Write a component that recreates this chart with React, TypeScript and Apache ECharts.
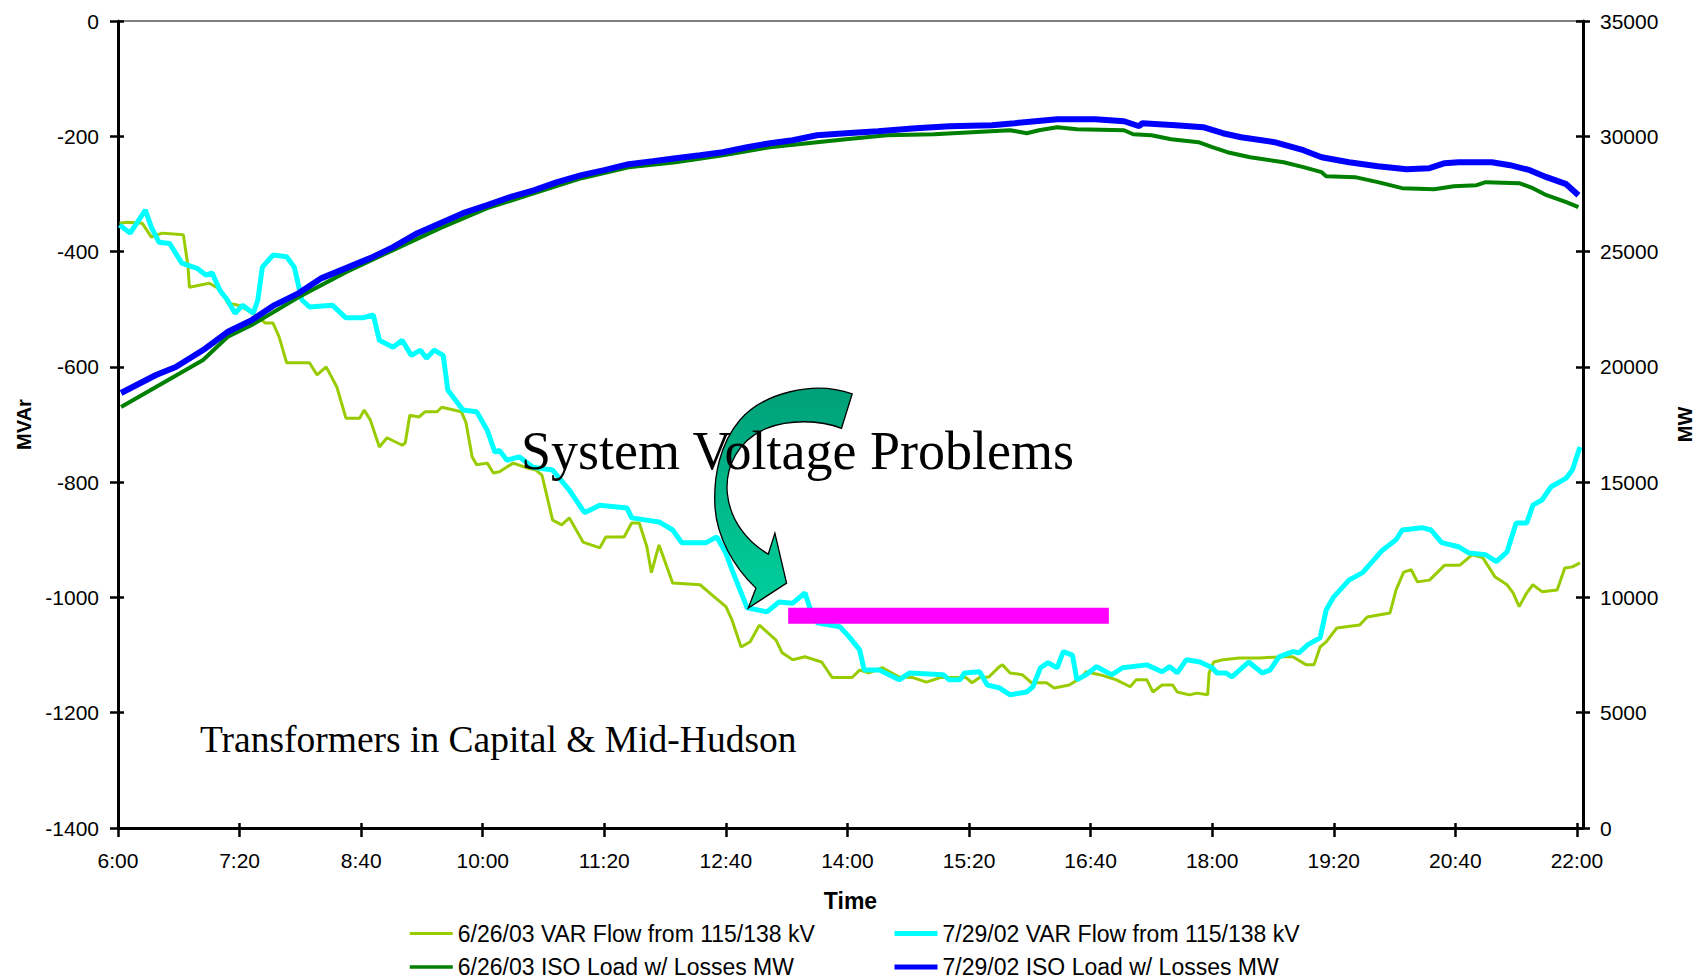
import React, { useEffect, useRef } from 'react';
import * as echarts from 'echarts';

// Time axis: minutes after 6:00
const xTickMinutes = [0, 80, 160, 240, 320, 400, 480, 560, 640, 720, 800, 880, 960];
const xTickLabels = ['6:00', '7:20', '8:40', '10:00', '11:20', '12:40', '14:00', '15:20', '16:40', '18:00', '19:20', '20:40', '22:00'];

const seriesNames = [
  '6/26/03 VAR Flow from 115/138 kV',
  '7/29/02 VAR Flow from 115/138 kV',
  '6/26/03 ISO Load w/ Losses MW',
  '7/29/02 ISO Load w/ Losses MW',
];

// [minutes after 6:00, MVAr]
const varFlow0626: [number, number][] = [
  [1, -351], [6, -349], [16, -351], [22, -375], [29, -368], [43, -371], [46, -424], [47, -462], [60, -455], [65, -462],
  [69, -472], [72, -489], [79, -493], [89, -507], [97, -524], [102, -524], [106, -548], [111, -593], [126, -593], [131, -614],
  [137, -600], [144, -635], [150, -689], [159, -689], [162, -675], [166, -692], [172, -739], [177, -723], [187, -736], [189, -732],
  [192, -684], [198, -687], [202, -678], [210, -678], [213, -670], [226, -678], [229, -697], [233, -756], [236, -770], [243, -767],
  [247, -784], [251, -782], [260, -767], [269, -775], [275, -779], [279, -788], [286, -866], [292, -874], [297, -862], [306, -904],
  [317, -914], [321, -895], [333, -895], [338, -871], [343, -871], [348, -912], [351, -957], [356, -909], [365, -975], [383, -978],
  [391, -996], [400, -1016], [404, -1039], [410, -1086], [416, -1077], [422, -1048], [433, -1074], [437, -1096], [444, -1108], [452, -1103],
  [463, -1112], [470, -1139], [483, -1139], [488, -1126], [494, -1131], [503, -1122], [514, -1138], [523, -1139], [532, -1147], [541, -1139],
  [558, -1139], [562, -1148], [567, -1139], [573, -1138], [580, -1120], [582, -1117], [587, -1131], [595, -1134], [601, -1148], [611, -1148],
  [616, -1157], [626, -1152], [634, -1139], [637, -1129], [646, -1134], [657, -1143], [666, -1155], [670, -1143], [677, -1143], [681, -1164],
  [687, -1152], [694, -1152], [697, -1164], [705, -1169], [710, -1166], [717, -1169], [718, -1131], [721, -1112], [727, -1108], [738, -1105],
  [751, -1105], [766, -1103], [773, -1103], [782, -1117], [787, -1117], [791, -1086], [795, -1077], [802, -1053], [817, -1048], [822, -1034],
  [837, -1027], [841, -987], [846, -956], [851, -952], [855, -973], [863, -970], [873, -944], [883, -944], [891, -926], [898, -931],
  [906, -964], [914, -978], [918, -992], [922, -1016], [927, -992], [931, -978], [937, -990], [947, -987], [952, -949], [957, -947],
  [962, -940],
];

const varFlow0729: [number, number][] = [
  [1, -354], [8, -368], [18, -328], [22, -358], [27, -384], [34, -386], [42, -420], [52, -429], [58, -441], [62, -437],
  [67, -467], [72, -484], [77, -507], [82, -493], [89, -507], [92, -484], [95, -427], [102, -406], [111, -409], [116, -427],
  [121, -484], [126, -496], [141, -493], [150, -515], [161, -515], [168, -510], [172, -554], [181, -566], [187, -554], [193, -580],
  [199, -571], [203, -585], [208, -571], [214, -580], [217, -640], [227, -675], [236, -678], [243, -710], [248, -748], [251, -745],
  [256, -762], [264, -756], [273, -774], [286, -779], [297, -814], [307, -853], [317, -840], [335, -845], [338, -862], [356, -869],
  [365, -883], [371, -905], [387, -905], [394, -895], [400, -923], [404, -952], [414, -1018], [427, -1025], [435, -1008], [444, -1010],
  [452, -992], [455, -1016], [460, -1044], [475, -1051], [481, -1068], [488, -1091], [491, -1126], [501, -1126], [514, -1143], [521, -1131],
  [543, -1134], [547, -1143], [554, -1143], [557, -1131], [567, -1129], [572, -1152], [580, -1157], [587, -1169], [598, -1164], [602, -1155],
  [607, -1122], [612, -1113], [618, -1122], [622, -1094], [628, -1100], [631, -1143], [637, -1134], [644, -1120], [650, -1129], [654, -1134],
  [661, -1122], [677, -1117], [687, -1129], [692, -1120], [697, -1131], [703, -1108], [712, -1112], [720, -1122], [723, -1131], [729, -1131],
  [733, -1138], [744, -1112], [753, -1131], [758, -1126], [764, -1103], [773, -1094], [777, -1096], [783, -1082], [791, -1070], [795, -1022],
  [800, -999], [810, -970], [819, -957], [832, -918], [841, -900], [845, -883], [858, -879], [864, -883], [871, -905], [882, -912],
  [889, -923], [900, -926], [907, -938], [914, -921], [920, -871], [927, -871], [931, -840], [937, -831], [943, -808], [953, -793],
  [957, -779], [962, -739],
];

// [minutes after 6:00, MW]
const isoLoad0626: [number, number][] = [
  [2, 18258], [25, 19125], [56, 20295], [72, 21292], [88, 21812], [119, 23026], [150, 24109], [181, 25063], [212, 26016], [243, 26883],
  [274, 27533], [305, 28183], [336, 28660], [367, 28876], [398, 29180], [429, 29526], [460, 29743], [479, 29873], [506, 30046], [537, 30090],
  [562, 30176], [587, 30263], [598, 30133], [606, 30263], [618, 30393], [631, 30306], [662, 30263], [668, 30090], [680, 30046], [693, 29873],
  [711, 29743], [720, 29526], [730, 29310], [745, 29093], [767, 28876], [780, 28660], [792, 28443], [795, 28270], [814, 28227], [829, 28010],
  [845, 27750], [866, 27707], [879, 27836], [894, 27880], [900, 28010], [922, 27967], [931, 27750], [940, 27446], [953, 27143], [961, 26926],
];

const isoLoad0729: [number, number][] = [
  [2, 18865], [25, 19645], [38, 19992], [56, 20729], [72, 21509], [88, 22029], [103, 22679], [119, 23199], [134, 23849], [150, 24282],
  [166, 24716], [181, 25193], [197, 25799], [212, 26233], [227, 26666], [243, 27013], [258, 27360], [274, 27663], [289, 28010], [305, 28313],
  [320, 28530], [336, 28790], [352, 28920], [367, 29050], [383, 29180], [398, 29310], [414, 29526], [429, 29700], [444, 29830], [460, 30046],
  [479, 30133], [500, 30220], [525, 30350], [547, 30436], [575, 30480], [590, 30567], [618, 30740], [643, 30740], [662, 30653], [672, 30436],
  [674, 30567], [696, 30480], [714, 30393], [727, 30133], [739, 29960], [761, 29743], [780, 29396], [792, 29093], [810, 28876], [829, 28703],
  [848, 28573], [863, 28616], [873, 28833], [882, 28876], [904, 28876], [916, 28746], [929, 28530], [940, 28226], [953, 27923], [961, 27446],
];

// Highlighted problem window (13:21 - 16:52) at about -1032 MVAr
const problemWindow: [number, number][] = [[441, -1032], [652, -1032]];

const ARROW_D =
  'M 517 72 C 400 30 250 70 180 150 C 120 220 100 320 105 410 C 110 500 160 590 228 655 ' +
  'L 205 715 L 320 640 L 285 490 L 265 553 ' +
  'C 200 515 150 450 142 370 C 135 290 175 210 260 175 C 330 148 420 150 485 175 Z';

let arrowRegistered = false;

const SANS = "'Liberation Sans', Arial, sans-serif";
const SERIF = "'Liberation Serif', 'Times New Roman', serif";

export default function App() {
  const ref = useRef<HTMLDivElement>(null);

  useEffect(() => {
    if (!arrowRegistered) {
      echarts.graphic.registerShape('voltArrow', echarts.graphic.extendPath(ARROW_D, {}));
      arrowRegistered = true;
    }
    const chart = echarts.init(ref.current as HTMLDivElement, null, { renderer: 'svg' });

    const tickStyle = { color: '#000', width: 2.5 };
    const labelStyle = { color: '#000', fontSize: 21, fontFamily: SANS, formatter: (v: number) => String(v) };

    const legendBase = {
      top: 922,
      padding: 0,
      orient: 'vertical',
      itemWidth: 43,
      itemHeight: 14,
      itemGap: 10.5,
      itemStyle: { opacity: 0 },
      textStyle: { fontSize: 23, color: '#000', fontFamily: SANS },
      selectedMode: false,
    };

    const option: any = {
      animation: false,
      backgroundColor: '#fff',
      grid: { left: 118, right: 125, top: 21, bottom: 151, containLabel: false },
      legend: [
        {
          ...legendBase,
          left: 408,
          data: [
            { name: seriesNames[0], lineStyle: { width: 3 } },
            { name: seriesNames[2], lineStyle: { width: 3.5 } },
          ],
        },
        {
          ...legendBase,
          left: 892,
          data: [
            { name: seriesNames[1], lineStyle: { width: 5 } },
            { name: seriesNames[3], lineStyle: { width: 5 } },
          ],
        },
      ],
      xAxis: [
        {
          type: 'value',
          min: 0,
          max: 964,
          position: 'bottom',
          name: 'Time',
          nameLocation: 'middle',
          nameGap: 61,
          nameTextStyle: { fontSize: 23, fontWeight: 'bold', color: '#000', fontFamily: SANS },
          axisLine: { show: true, onZero: false, lineStyle: { color: '#000', width: 3 } },
          axisTick: { show: true, inside: false, length: 9, customValues: xTickMinutes, lineStyle: tickStyle },
          axisLabel: {
            color: '#000',
            fontSize: 21,
            fontFamily: SANS,
            margin: 22,
            customValues: xTickMinutes,
            formatter: (v: number) => {
              const i = xTickMinutes.indexOf(Math.round(v));
              return i >= 0 ? xTickLabels[i] : '';
            },
          },
          splitLine: { show: false },
        },
        {
          type: 'value',
          min: 0,
          max: 964,
          position: 'top',
          axisLine: { show: true, onZero: false, lineStyle: { color: '#808080', width: 2 } },
          axisTick: { show: false },
          axisLabel: { show: false },
          splitLine: { show: false },
        },
        {
          type: 'value',
          min: 0,
          max: 964,
          position: 'bottom',
          axisLine: { show: false, onZero: false },
          axisTick: { show: true, inside: true, length: 5, customValues: xTickMinutes, lineStyle: tickStyle },
          axisLabel: { show: false },
          splitLine: { show: false },
        },
      ],
      yAxis: [
        {
          type: 'value',
          min: -1400,
          max: 0,
          interval: 200,
          position: 'left',
          name: 'MVAr',
          nameLocation: 'middle',
          nameRotate: 90,
          nameGap: 83,
          nameTextStyle: { fontSize: 20, fontWeight: 'bold', color: '#000', fontFamily: SANS },
          axisLine: { show: true, onZero: false, lineStyle: { color: '#000', width: 3 } },
          axisTick: { show: true, inside: false, length: 8, lineStyle: tickStyle },
          axisLabel: { ...labelStyle, margin: 19 },
          splitLine: { show: false },
        },
        {
          type: 'value',
          min: 0,
          max: 35000,
          interval: 5000,
          position: 'right',
          name: 'MW',
          nameLocation: 'middle',
          nameRotate: 90,
          nameGap: 92,
          nameTextStyle: { fontSize: 20, fontWeight: 'bold', color: '#000', fontFamily: SANS },
          axisLine: { show: true, onZero: false, lineStyle: { color: '#000', width: 3 } },
          axisTick: { show: true, inside: false, length: 7, lineStyle: tickStyle },
          axisLabel: { ...labelStyle, margin: 17 },
          splitLine: { show: false },
        },
        {
          type: 'value',
          min: -1400,
          max: 0,
          interval: 200,
          position: 'left',
          axisLine: { show: false, onZero: false },
          axisTick: { show: true, inside: true, length: 6, lineStyle: tickStyle },
          axisLabel: { show: false },
          splitLine: { show: false },
        },
        {
          type: 'value',
          min: 0,
          max: 35000,
          interval: 5000,
          position: 'right',
          axisLine: { show: false, onZero: false },
          axisTick: { show: true, inside: true, length: 7, lineStyle: tickStyle },
          axisLabel: { show: false },
          splitLine: { show: false },
        },
      ],
      series: [
        {
          name: seriesNames[0],
          type: 'line',
          data: varFlow0626,
          xAxisIndex: 0,
          yAxisIndex: 0,
          symbol: 'none',
          color: '#99CC00',
          lineStyle: { color: '#99CC00', width: 3 },
          z: 2,
        },
        {
          name: seriesNames[1],
          type: 'line',
          data: varFlow0729,
          xAxisIndex: 0,
          yAxisIndex: 0,
          symbol: 'none',
          color: '#00FFFF',
          lineStyle: { color: '#00FFFF', width: 5 },
          z: 3,
        },
        {
          name: seriesNames[2],
          type: 'line',
          data: isoLoad0626,
          xAxisIndex: 0,
          yAxisIndex: 1,
          symbol: 'none',
          color: '#008000',
          lineStyle: { color: '#008000', width: 4 },
          z: 4,
        },
        {
          name: seriesNames[3],
          type: 'line',
          data: isoLoad0729,
          xAxisIndex: 0,
          yAxisIndex: 1,
          symbol: 'none',
          color: '#0000FF',
          lineStyle: { color: '#0000FF', width: 6 },
          z: 5,
        },
        {
          name: 'Problem window',
          type: 'line',
          data: problemWindow,
          xAxisIndex: 0,
          yAxisIndex: 0,
          symbol: 'none',
          silent: true,
          color: '#FF00FF',
          lineStyle: { color: '#FF00FF', width: 16, cap: 'butt' },
          z: 6,
        },
      ],
      graphic: [
        {
          type: 'voltArrow',
          x: 680,
          y: 370,
          scaleX: 1 / 3,
          scaleY: 1 / 3,
          z: 100,
          silent: true,
          style: {
            fill: new echarts.graphic.LinearGradient(0, 0, 0, 1, [
              { offset: 0, color: '#00A078' },
              { offset: 1, color: '#00D09C' },
            ]),
            stroke: '#000',
            lineWidth: 4,
          },
        },
        {
          type: 'text',
          x: 521,
          y: 451,
          z: 101,
          silent: true,
          style: {
            text: 'System Voltage Problems',
            font: `54px ${SERIF}`,
            fill: '#000',
            verticalAlign: 'middle',
          },
        },
        {
          type: 'text',
          x: 200,
          y: 739,
          z: 101,
          silent: true,
          style: {
            text: 'Transformers in Capital & Mid-Hudson',
            font: `37.5px ${SERIF}`,
            fill: '#000',
            verticalAlign: 'middle',
          },
        },
      ],
    };

    chart.setOption(option);
    return () => chart.dispose();
  }, []);

  return (
    <div
      ref={ref}
      style={{ position: 'fixed', left: 0, top: 0, width: 1708, height: 979, background: '#fff' }}
    />
  );
}
